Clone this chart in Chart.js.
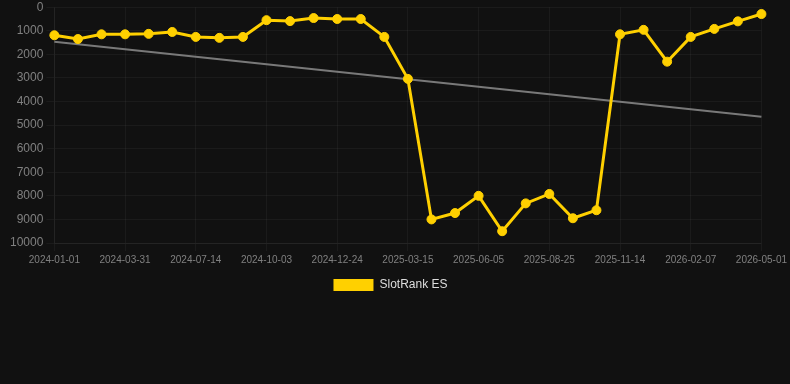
<!DOCTYPE html>
<html>
<head>
<meta charset="utf-8">
<script src="https://cdn.jsdelivr.net/npm/chart.js@4/dist/chart.umd.min.js"></script>
<style>
  html, body { margin: 0; padding: 0; background: #111111; overflow: hidden; }
  #wrap { position: relative; width: 790px; height: 304px; margin-top: -3px; }
</style>
</head>
<body>
<div id="wrap"><canvas id="c"></canvas></div>
<script>
const categories = [
  "2024-01-01","2024-01-31","2024-03-01","2024-03-31","2024-05-05","2024-06-09",
  "2024-07-14","2024-08-10","2024-09-06","2024-10-03","2024-10-30","2024-11-27",
  "2024-12-24","2025-01-20","2025-02-16","2025-03-15","2025-04-11","2025-05-09",
  "2025-06-05","2025-07-02","2025-07-29","2025-08-25","2025-09-21","2025-10-18",
  "2025-11-14","2025-12-13","2026-01-10","2026-02-07","2026-03-06","2026-04-03",
  "2026-05-01"
];
const rankValues = [
  1190, 1350, 1150, 1150, 1130, 1050, 1260, 1300, 1260, 550, 590, 460,
  500, 500, 1260, 3040, 9000, 8730, 8000, 9500, 8320, 7920, 8950, 8610,
  1150, 960, 2310, 1260, 920, 600, 290
];
const trendStart = 1470;
const trendEnd = 4650;
const yTicks = [0, 1000, 2000, 3000, 4000, 5000, 6000, 7000, 8000, 9000, 10000];

const trendValues = categories.map((_, i) =>
  i === 0 ? trendStart : (i === categories.length - 1 ? trendEnd : null));

const legendShift = {
  id: 'legendShift',
  afterLayout(chart) {
    if (chart.legend) { chart.legend.left -= 7; chart.legend.right -= 7; }
  }
};

new Chart(document.getElementById('c'), {
  type: 'line',
  data: {
    labels: categories,
    datasets: [
      {
        label: 'SlotRank ES',
        data: rankValues,
        borderColor: '#FFD000',
        backgroundColor: '#FFD000',
        borderWidth: 3,
        pointRadius: 4.5,
        pointHoverRadius: 4.5,
        pointBorderWidth: 1,
        pointBackgroundColor: '#FFD000',
        pointBorderColor: '#FFD000',
        tension: 0,
        order: 1
      },
      {
        label: 'trend',
        data: trendValues,
        borderColor: 'rgba(140,140,140,0.85)',
        borderWidth: 2,
        pointRadius: 0,
        spanGaps: true,
        order: 2
      }
    ]
  },
  plugins: [legendShift],
  options: {
    responsive: true,
    maintainAspectRatio: false,
    animation: false,
    layout: { padding: { left: 7, right: 2 } },
    plugins: {
      legend: {
        position: 'bottom',
        labels: {
          color: '#dddddd',
          font: { family: 'Liberation Sans, Arial, sans-serif', size: 12 },
          boxWidth: 40,
          boxHeight: 12,
          generateLabels: (chart) => [{
            text: chart.data.datasets[0].label,
            fillStyle: '#FFD000',
            strokeStyle: '#FFD000',
            lineWidth: 0,
            fontColor: '#dddddd',
            hidden: false,
            datasetIndex: 0
          }]
        }
      },
      tooltip: { enabled: false }
    },
    scales: {
      x: {
        ticks: {
          color: '#808080',
          font: { family: 'Liberation Sans, Arial, sans-serif', size: 10 },
          maxRotation: 0,
          autoSkip: true,
          maxTicksLimit: 11
        },
        grid: { color: 'rgba(255,255,255,0.045)' },
        border: { color: 'rgba(255,255,255,0.045)' }
      },
      y: {
        reverse: true,
        min: 0,
        max: 10000,
        afterBuildTicks: (scale) => { scale.ticks = yTicks.map(v => ({ value: v })); },
        ticks: {
          color: '#808080',
          font: { family: 'Liberation Sans, Arial, sans-serif', size: 12 },
          callback: (v) => String(v)
        },
        grid: { color: 'rgba(255,255,255,0.045)' },
        border: { color: 'rgba(255,255,255,0.045)' }
      }
    }
  }
});
</script>
</body>
</html>
